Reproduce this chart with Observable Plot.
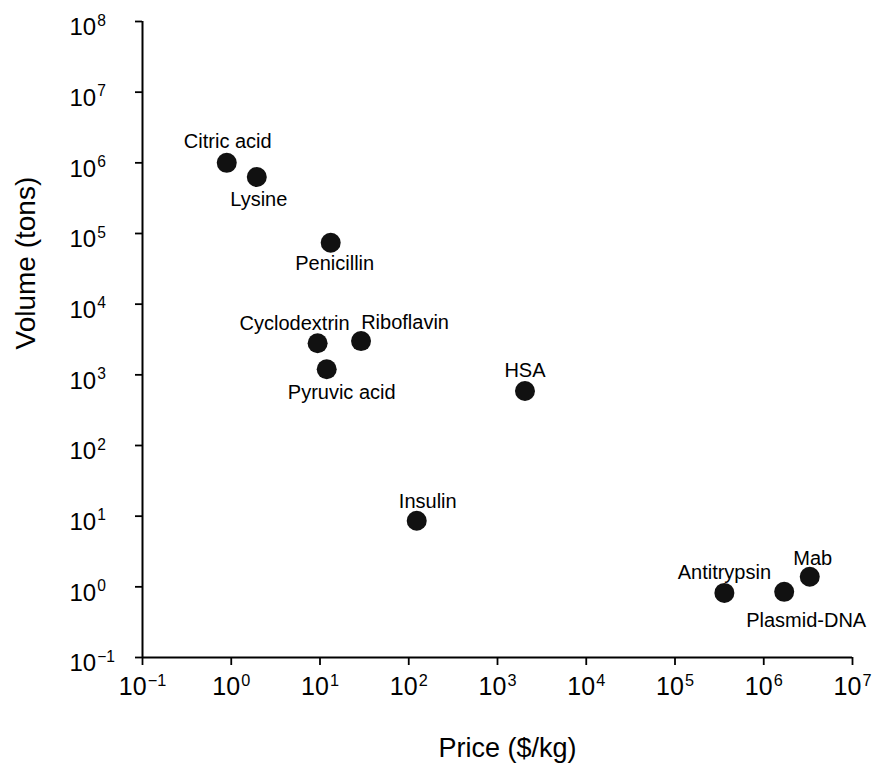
<!DOCTYPE html>
<html>
<head>
<meta charset="utf-8">
<script src="https://cdn.jsdelivr.net/npm/d3@7"></script>
<script src="https://cdn.jsdelivr.net/npm/@observablehq/plot@0.6"></script>
<style>
  html, body { margin: 0; padding: 0; background: #fff; }
  #chart svg { display: block; }
</style>
</head>
<body>
<div id="chart"></div>
<script>
// ---- data ----
const products = ["Citric acid", "Lysine", "Penicillin", "Cyclodextrin", "Riboflavin", "Pyruvic acid", "HSA", "Insulin", "Antitrypsin", "Plasmid-DNA", "Mab"];
const priceUsdPerKg = [0.89, 1.94, 13.2, 9.4, 29, 11.9, 2040, 123, 3.6e5, 1.7e6, 3.3e6];
const volumeTons = [1.0e6, 6.3e5, 7.4e4, 2.8e3, 3.0e3, 1.2e3, 590, 8.6, 0.82, 0.85, 1.39];
const xTickValues = [1e-1, 1e0, 1e1, 1e2, 1e3, 1e4, 1e5, 1e6, 1e7];
const yTickValues = [1e-1, 1e0, 1e1, 1e2, 1e3, 1e4, 1e5, 1e6, 1e7, 1e8];
const xTitle = "Price ($/kg)";
const yTitle = "Volume (tons)";

// ---- label placement (style only: pixel offsets from each dot) ----
const labelOffset = {
  "Citric acid": [1, -21],
  "Lysine": [2, 23],
  "Penicillin": [4, 21],
  "Cyclodextrin": [-23, -20],
  "Riboflavin": [44, -19],
  "Pyruvic acid": [15, 23],
  "HSA": [0, -20],
  "Insulin": [11, -19],
  "Antitrypsin": [0, -20],
  "Mab": [3, -18],
  "Plasmid-DNA": [22, 29]
};

const data = products.map((name, i) => ({name, price: priceUsdPerKg[i], volume: volumeTons[i]}));
const FONT = "'Liberation Sans', Arial, Helvetica, sans-serif";
const expFormat = d => "10^" + Math.round(Math.log10(d));

const chart = Plot.plot({
  width: 880,
  height: 764,
  marginLeft: 142,
  marginRight: 28,
  marginTop: 21,
  marginBottom: 107,
  style: {fontFamily: FONT, background: "#fff", color: "#000"},
  x: {type: "log", domain: [1e-1, 1e7]},
  y: {type: "log", domain: [1e-1, 1e8]},
  marks: [
    Plot.ruleX([1e-1], {stroke: "#000", strokeWidth: 2}),
    Plot.ruleY([1e-1], {stroke: "#000", strokeWidth: 2}),
    Plot.axisX({ticks: xTickValues, tickFormat: expFormat, tickSize: 8, tickPadding: 12, fontSize: 25, strokeWidth: 1.8, label: null}),
    Plot.axisY({ticks: yTickValues, tickFormat: expFormat, tickSize: 7, tickPadding: 66, textAnchor: "start", fontSize: 24, strokeWidth: 1.8, label: null}),
    Plot.dot(data, {x: "price", y: "volume", r: 10, fill: "#111"}),
    ...data.map(d => Plot.text([d], {
      x: "price", y: "volume", text: "name",
      dx: labelOffset[d.name][0], dy: labelOffset[d.name][1],
      fontSize: 20, fill: "#000"
    })),
    Plot.text([xTitle], {frameAnchor: "bottom", lineAnchor: "top", dx: 10, dy: 80, fontSize: 27, fill: "#000"}),
    Plot.text([yTitle], {frameAnchor: "left", rotate: -90, dx: -116, dy: 10, fontSize: 28, fill: "#000"})
  ]
});

// turn "10^k" tick labels into 10 with a superscript exponent
chart.querySelectorAll('g[aria-label="x-axis tick label"] text, g[aria-label="y-axis tick label"] text').forEach(t => {
  const s = t.textContent;
  if (!s.startsWith("10^")) return;
  const isY = t.closest('g[aria-label="y-axis tick label"]') !== null;
  const exp = s.slice(3).replace("-", "\u2212");
  t.textContent = "";
  const base = document.createElementNS("http://www.w3.org/2000/svg", "tspan");
  base.textContent = "10";
  if (isY) base.setAttribute("dy", "6");
  const sup = document.createElementNS("http://www.w3.org/2000/svg", "tspan");
  sup.textContent = exp;
  sup.setAttribute("font-size", "0.65em");
  sup.setAttribute("dy", "-0.6em");
  sup.setAttribute("dx", "1");
  t.appendChild(base);
  t.appendChild(sup);
});

document.getElementById("chart").appendChild(chart);
</script>
</body>
</html>
